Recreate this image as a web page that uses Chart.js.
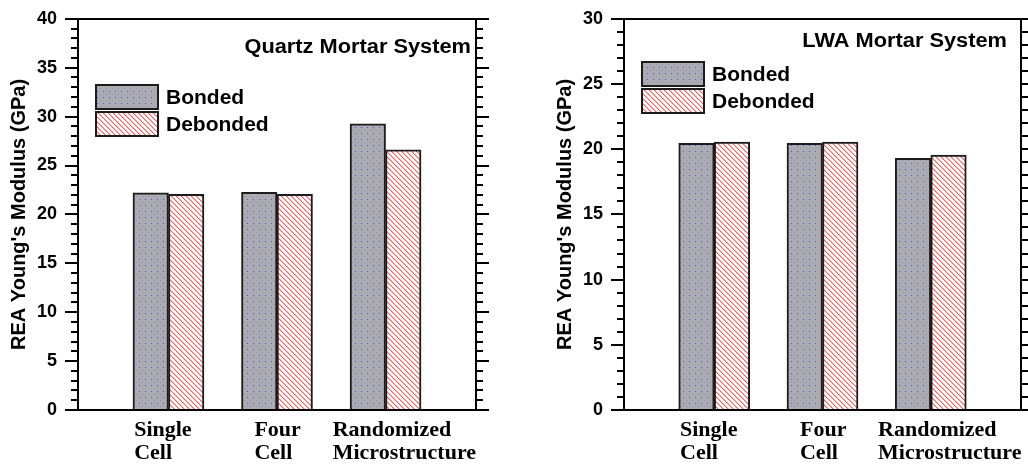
<!DOCTYPE html>
<html>
<head>
<meta charset="utf-8">
<script src="https://cdn.jsdelivr.net/npm/chart.js@4.4.1/dist/chart.umd.min.js"></script>
<style>
  html, body { margin: 0; padding: 0; background: #fff; }
  #wrap { display: flex; width: 1028px; height: 466px; overflow: hidden; }
  .panel { width: 514px; height: 466px; }
</style>
</head>
<body>
<div id="wrap">
  <div class="panel"><canvas id="quartz" width="514" height="466"></canvas></div>
  <div class="panel"><canvas id="lwa" width="514" height="466"></canvas></div>
</div>
<script>
// Модели и значения модуля (ГПа)
const categories = [["Single", "Cell"], ["Four", "Cell"], ["Randomized", "Microstructure"]];
const categoryPos = [1, 2, 3];
const seriesNames = ["Bonded", "Debonded"];

const quartzBonded = [22.2, 22.25, 29.25];
const quartzDebonded = [22.05, 22.05, 26.6];
const lwaBonded = [20.45, 20.45, 19.3];
const lwaDebonded = [20.55, 20.55, 19.55];

const quartzYMax = 40;
const lwaYMax = 30;
const majorStep = 5;
const minorStep = 1;

// Подписи по оси X выровнены по левому краю, смещение от центра группы
const labelShift = [-0.316, -0.208, -0.487];

const FONT_SANS = '"Liberation Sans", Arial, sans-serif';
const FONT_SERIF = '"Liberation Serif", "Times New Roman", serif';

// Заливки столбцов
function dotPattern() {
  const c = document.createElement("canvas");
  c.width = 6; c.height = 6;
  const g = c.getContext("2d");
  g.fillStyle = "#acacb0";
  g.fillRect(0, 0, 6, 6);
  g.fillStyle = "#5050f0";
  g.fillRect(1, 1, 1, 1);
  g.fillStyle = "#9090cc";
  g.fillRect(4, 4, 1, 1);
  g.fillStyle = "#a0a0c0";
  g.fillRect(1, 4, 1, 1);
  return g.createPattern(c, "repeat");
}

function hatchPattern() {
  const n = 5;
  const c = document.createElement("canvas");
  c.width = n; c.height = n;
  const g = c.getContext("2d");
  g.fillStyle = "#ffffff";
  g.fillRect(0, 0, n, n);
  for (let y = 0; y < n; y++) {
    for (let x = 0; x < n; x++) {
      const k = ((x - y) % n + n) % n;
      if (k === 0) g.fillStyle = "#ff5a5a";
      else if (k === 1) g.fillStyle = "#ffbcbc";
      else continue;
      g.fillRect(x, y, 1, 1);
    }
  }
  return g.createPattern(c, "repeat");
}

const fills = [dotPattern(), hatchPattern()];

// Легенда и заголовок внутри области графика
const insideLegend = {
  id: "insideLegend",
  afterDraw(chart, args, opts) {
    const { ctx, chartArea } = chart;
    ctx.save();
    ctx.fillStyle = "#000";
    ctx.font = "bold 20px " + FONT_SANS;
    ctx.textAlign = "right";
    ctx.textBaseline = "alphabetic";
    // заголовок чуть растянут по горизонтали
    ctx.translate(chartArea.right - opts.titleInset, opts.titleBase);
    ctx.scale(1.09, 1);
    ctx.fillText(opts.title, 0, 0);
    ctx.restore();

    ctx.save();
    ctx.font = "bold 21px " + FONT_SANS;
    ctx.textAlign = "left";
    ctx.textBaseline = "alphabetic";
    chart.data.datasets.forEach((ds, i) => {
      const x = chartArea.left + 18;
      const y = opts.legendTop + i * 27;
      ctx.fillStyle = ds.backgroundColor;
      ctx.fillRect(x, y, 62, 24);
      ctx.strokeStyle = "#1c1c1c";
      ctx.lineWidth = 2;
      ctx.strokeRect(x, y, 62, 24);
      ctx.fillStyle = "#000";
      ctx.fillText(ds.label, x + 70, y + 19);
    });
    ctx.restore();
  }
};

function buildChart(id, bonded, debonded, yMax, box) {
  const xMin = 1 / 6, xMax = 23 / 6;
  const values = [bonded, debonded];

  const tickGrid = (len) => ({
    drawOnChartArea: false,
    tickLength: len,
    lineWidth: 2,
    color: "#000"
  });

  return new Chart(document.getElementById(id), {
    type: "bar",
    data: {
      datasets: seriesNames.map((name, s) => ({
        label: name,
        data: categoryPos.map((x, i) => ({ x, y: values[s][i] })),
        backgroundColor: fills[s],
        borderColor: "#1c1c1c",
        borderWidth: 2,
        barThickness: 35.5
      }))
    },
    options: {
      responsive: false,
      animation: false,
      layout: { padding: { left: box.padLeft, top: 15, right: 0, bottom: 0 } },
      plugins: {
        legend: { display: false },
        tooltip: { enabled: false },
        insideLegend: box.legend
      },
      scales: {
        x: {
          type: "linear",
          position: "bottom",
          min: xMin,
          max: xMax,
          offset: false,
          grid: { display: false, offset: false },
          border: { display: true, color: "#000", width: 2 },
          afterBuildTicks: (s) => {
            s.ticks = categoryPos.map((v, i) => ({ value: v + labelShift[i] }));
          },
          afterFit: (s) => { s.height = 56; },
          ticks: {
            align: "start",
            autoSkip: false,
            maxRotation: 0,
            padding: 1,
            color: "#000",
            font: { family: FONT_SERIF, weight: "bold", size: 22, lineHeight: "23px" },
            callback: (v, i) => categories[i]
          }
        },
        xTop: {
          type: "linear",
          position: "top",
          min: xMin,
          max: xMax,
          grid: { display: false },
          ticks: { display: false },
          border: { display: true, color: "#000", width: 2 },
          afterFit: (s) => { s.height = 0; }
        },
        y: {
          type: "linear",
          position: "left",
          weight: 1,
          min: 0,
          max: yMax,
          grid: tickGrid(13),
          border: { display: true, color: "#000", width: 2 },
          ticks: {
            stepSize: majorStep,
            padding: 8,
            color: "#000",
            font: { family: FONT_SANS, weight: "bold", size: 18 }
          },
          title: {
            display: true,
            text: "REA Young's Modulus (GPa)",
            color: "#000",
            font: { family: FONT_SANS, weight: "bold", size: 20 },
            padding: { top: 7, bottom: 0 }
          },
          afterFit: (s) => { s.width = 78; }
        },
        yMinor: {
          type: "linear",
          position: "left",
          weight: 0,
          min: 0,
          max: yMax,
          grid: tickGrid(7),
          border: { display: false },
          ticks: { stepSize: minorStep, display: false },
          afterFit: (s) => { s.width = 0; }
        },
        yRight: {
          type: "linear",
          position: "right",
          weight: 1,
          min: 0,
          max: yMax,
          grid: tickGrid(13),
          border: { display: true, color: "#000", width: 2 },
          ticks: { stepSize: majorStep, display: false },
          afterFit: (s) => { s.width = box.rightWidth; }
        },
        yRightMinor: {
          type: "linear",
          position: "right",
          weight: 0,
          min: 0,
          max: yMax,
          grid: tickGrid(7),
          border: { display: false },
          ticks: { stepSize: minorStep, display: false },
          afterFit: (s) => { s.width = 0; }
        }
      }
    },
    plugins: [insideLegend]
  });
}

buildChart("quartz", quartzBonded, quartzDebonded, quartzYMax, {
  padLeft: 0,
  rightWidth: 38,
  legend: { title: "Quartz Mortar System", titleInset: 5, titleBase: 53, legendTop: 85 }
});

buildChart("lwa", lwaBonded, lwaDebonded, lwaYMax, {
  padLeft: 32,
  rightWidth: 7,
  legend: { title: "LWA Mortar System", titleInset: 14, titleBase: 47, legendTop: 62 }
});
</script>
</body>
</html>
